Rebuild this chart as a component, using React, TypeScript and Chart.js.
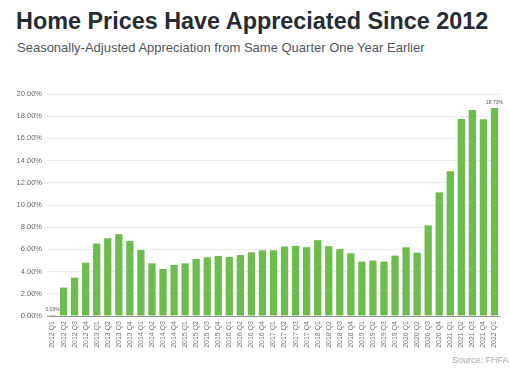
import React, { useEffect, useRef } from "react";
import { Chart, registerables } from "chart.js";

Chart.register(...registerables);

const quarters: string[] = [
  "2012 Q1", "2012 Q2", "2012 Q3", "2012 Q4",
  "2013 Q1", "2013 Q2", "2013 Q3", "2013 Q4",
  "2014 Q1", "2014 Q2", "2014 Q3", "2014 Q4",
  "2015 Q1", "2015 Q2", "2015 Q3", "2015 Q4",
  "2016 Q1", "2016 Q2", "2016 Q3", "2016 Q4",
  "2017 Q1", "2017 Q2", "2017 Q3", "2017 Q4",
  "2018 Q1", "2018 Q2", "2018 Q3", "2018 Q4",
  "2019 Q1", "2019 Q2", "2019 Q3", "2019 Q4",
  "2020 Q1", "2020 Q2", "2020 Q3", "2020 Q4",
  "2021 Q1", "2021 Q2", "2021 Q3", "2021 Q4",
  "2022 Q1",
];

const appreciation: number[] = [
  0.09, 2.56, 3.46, 4.81,
  6.53, 7.0, 7.37, 6.77,
  5.95, 4.75, 4.24, 4.6,
  4.75, 5.14, 5.29, 5.41,
  5.32, 5.5, 5.74, 5.92,
  5.92, 6.26, 6.32, 6.2,
  6.83, 6.29, 6.02, 5.65,
  4.9, 5.0, 4.9, 5.44,
  6.19, 5.7, 8.17, 11.14,
  13.03, 17.75, 18.56, 17.72,
  18.73,
];

const labelledIndexes: number[] = [0, 40];

const TITLE = "Home Prices Have Appreciated Since 2012";
const SUBTITLE = "Seasonally-Adjusted Appreciation from Same Quarter One Year Earlier";
const SOURCE = "Source: FHFA";

const FONT = "'Liberation Sans', Arial, Helvetica, sans-serif";

const endLabels = {
  id: "endLabels",
  afterDatasetsDraw(chart: any) {
    const ctx = chart.ctx;
    const meta = chart.getDatasetMeta(0);
    ctx.save();
    ctx.font = `5px ${FONT}`;
    ctx.fillStyle = "#555";
    ctx.textAlign = "center";
    ctx.textBaseline = "bottom";
    labelledIndexes.forEach((i) => {
      const bar = meta.data[i];
      ctx.fillText(appreciation[i].toFixed(2) + "%", bar.x, bar.y - 3);
    });
    ctx.restore();
  },
};

export default function App() {
  const ref = useRef<HTMLCanvasElement | null>(null);

  useEffect(() => {
    document.body.style.margin = "0";
    const chart = new Chart(ref.current as HTMLCanvasElement, {
      type: "bar",
      data: {
        labels: quarters,
        datasets: [
          {
            data: appreciation,
            backgroundColor: "#6dbd4e",
            borderWidth: 0,
            barPercentage: 0.66,
            categoryPercentage: 1,
          },
        ],
      },
      options: {
        animation: false,
        responsive: false,
        maintainAspectRatio: false,
        layout: { padding: { left: 0, right: 10, top: 14, bottom: 0 } },
        plugins: {
          legend: { display: false },
          tooltip: { enabled: false },
          title: { display: false },
        },
        scales: {
          x: {
            offset: true,
            grid: { display: false, drawTicks: false },
            border: { display: true, color: "#9a9a9a", width: 1 },
            ticks: {
              autoSkip: false,
              maxRotation: 90,
              minRotation: 90,
              padding: 5,
              color: "#777",
              font: { size: 7, family: FONT },
            },
            afterFit: (scale: any) => {
              scale.height = 34;
            },
          },
          y: {
            min: 0,
            max: 20,
            grid: { color: "#ebebeb", drawTicks: false, lineWidth: 1 },
            border: { display: false },
            ticks: {
              stepSize: 2,
              padding: 5,
              color: "#666",
              font: { size: 7.5, family: FONT },
              callback: (v: any) => Number(v).toFixed(2) + "%",
            },
            afterFit: (scale: any) => {
              scale.width = 47;
            },
          },
        },
      },
      plugins: [endLabels],
    });
    return () => chart.destroy();
  }, []);

  return (
    <div style={{ position: "relative", width: 510, height: 369, background: "#fff", fontFamily: FONT }}>
      <div
        style={{
          position: "absolute",
          left: 16,
          top: 7,
          fontSize: 23.4,
          fontWeight: "bold",
          color: "#262c35",
          whiteSpace: "nowrap",
          lineHeight: "28px",
        }}
      >
        {TITLE}
      </div>
      <div
        style={{
          position: "absolute",
          left: 17,
          top: 40,
          fontSize: 13,
          color: "#50565e",
          whiteSpace: "nowrap",
          lineHeight: "16px",
        }}
      >
        {SUBTITLE}
      </div>
      <canvas
        ref={ref}
        width={510}
        height={270}
        style={{ position: "absolute", left: 0, top: 80, width: 510, height: 270 }}
      />
      <div
        style={{
          position: "absolute",
          left: 452,
          top: 355,
          fontSize: 9,
          color: "#a9a9a9",
          whiteSpace: "nowrap",
          lineHeight: "11px",
        }}
      >
        {SOURCE}
      </div>
    </div>
  );
}
